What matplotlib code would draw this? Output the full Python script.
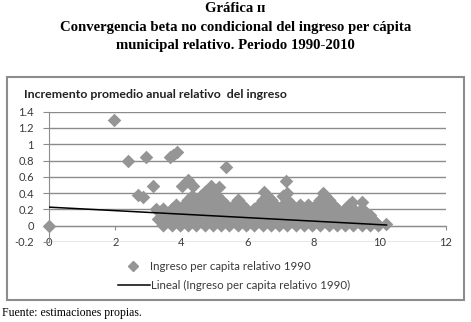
import matplotlib
matplotlib.use("Agg")
import matplotlib.pyplot as plt
from matplotlib.lines import Line2D
from matplotlib.patches import Rectangle
import numpy as np

# isolated points
out_x = [0.0, 1.95, 2.38, 2.93, 3.65, 3.75, 3.85, 2.68, 2.83, 3.13, 3.23, 3.28,
         4.02, 4.19, 4.26, 4.34, 4.89, 5.14, 5.34, 6.5, 6.7, 7.15, 7.19, 8.27,
         9.16, 9.46, 9.71, 9.86, 10.2]
out_y = [0.0, 1.30, 0.79, 0.84, 0.84, 0.87, 0.90, 0.38, 0.35, 0.49, 0.21, 0.08,
         0.49, 0.56, 0.52, 0.49, 0.49, 0.48, 0.72, 0.42, 0.32, 0.55, 0.40, 0.40,
         0.29, 0.29, 0.13, 0.05, 0.02]

# dense cloud, one row of points per level
row_levels = [0.01, 0.06, 0.11, 0.16, 0.21, 0.26, 0.31, 0.36, 0.41]
row_x = [
    [3.45, 3.7, 3.95, 4.2, 4.45, 4.7, 4.95, 5.2, 5.45, 5.7, 5.95, 6.2, 6.45, 6.7,
     6.95, 7.2, 7.45, 7.7, 7.95, 8.2, 8.45, 8.7, 8.95, 9.2, 9.45, 9.7, 9.95],
    [3.58, 3.83, 4.08, 4.33, 4.58, 4.83, 5.08, 5.33, 5.58, 5.83, 6.08, 6.33, 6.58,
     6.83, 7.08, 7.33, 7.58, 7.83, 8.08, 8.33, 8.58, 8.83, 9.08, 9.33, 9.58, 9.83],
    [3.45, 3.7, 3.95, 4.2, 4.45, 4.7, 4.95, 5.2, 5.45, 5.7, 5.95, 6.2, 6.45, 6.7,
     6.95, 7.2, 7.45, 7.7, 7.95, 8.2, 8.45, 8.7, 8.95, 9.2, 9.45, 9.7],
    [3.58, 3.83, 4.08, 4.33, 4.58, 4.83, 5.08, 5.33, 5.58, 5.83, 6.08, 6.33, 6.58,
     6.83, 7.08, 7.33, 7.58, 7.83, 8.08, 8.33, 8.58, 8.83, 9.08, 9.33, 9.58],
    [3.45, 3.7, 3.95, 4.2, 4.45, 4.7, 4.95, 5.2, 5.45, 5.7, 5.95, 6.2, 6.45, 6.7,
     6.95, 7.2, 7.45, 7.7, 7.95, 8.2, 8.45, 8.7, 8.95, 9.2, 9.45],
    [3.83, 4.08, 4.33, 4.58, 4.83, 5.08, 5.33, 5.58, 5.83, 6.33, 6.58, 6.83, 7.08,
     7.33, 7.58, 7.83, 8.08, 8.33, 8.58, 9.08],
    [4.2, 4.45, 4.7, 4.95, 5.2, 5.7, 6.45, 6.7, 7.2, 8.2, 8.45],
    [4.33, 4.58, 4.83, 5.08, 6.58, 7.08, 8.33],
    [4.7, 4.95],
]

# linear trend (Excel "Lineal")
trend_b0 = 0.228
trend_b1 = -0.0215
trend_x = [0.0, 10.2]

x_ticks = [0, 2, 4, 6, 8, 10, 12]
y_ticks = [-0.2, 0, 0.2, 0.4, 0.6, 0.8, 1, 1.2, 1.4]
y_labels = ["-0.2", "0", "0.2", "0.4", "0.6", "0.8", "1", "1.2", "1.4"]

pt_color = "#959595"
grid_color = "#8c8c8c"
txt_color = "#3a3a3a"
sans = "Lato"
serif = "Liberation Serif"

fig = plt.figure(figsize=(4.71, 3.22), dpi=100)
ax = fig.add_axes([49.3 / 471, 80 / 322, 396.7 / 471, 130.3 / 322])

cx, cy = [], []
for lev, xs in zip(row_levels, row_x):
    cx += xs
    cy += [lev] * len(xs)

ax.scatter(cx, cy, s=52, marker="D", color=pt_color, linewidths=0, zorder=3, clip_on=False)
ax.scatter(out_x, out_y, s=48, marker="D", color=pt_color, linewidths=0, zorder=3, clip_on=False)
tx = np.array(trend_x)
ax.plot(tx, trend_b0 + trend_b1 * tx, color="black", lw=1.1, zorder=4)

ax.set_xlim(0, 12)
ax.set_ylim(-0.2, 1.4)
for yv in y_ticks:
    ax.axhline(yv, color=grid_color, lw=1, zorder=1)

for s in ["top", "right"]:
    ax.spines[s].set_visible(False)
ax.spines["left"].set_color(grid_color)
ax.spines["bottom"].set_color(grid_color)
ax.spines["bottom"].set_position(("data", 0))
ax.set_xticks(x_ticks)
ax.set_xticklabels([])
ax.set_yticks(y_ticks)
ax.set_yticklabels(y_labels, fontfamily=sans, fontsize=8, color=txt_color)
ax.tick_params(axis="y", length=4, color=grid_color, pad=7)
ax.tick_params(axis="x", length=3, color=grid_color)
for xv in x_ticks:
    ax.text(xv, -0.2, str(xv), ha="center", va="center", fontfamily=sans,
            fontsize=8, color=txt_color, zorder=0)

# chart title inside the frame
fig.text(24 / 471, 1 - 95 / 322, "Incremento promedio anual relativo  del ingreso",
         fontfamily=sans, fontweight="bold", fontsize=8.9, color="#222222", va="center")

# legend drawn by hand
fig.add_artist(Line2D([133 / 471], [1 - 266 / 322], marker="D", markersize=5,
                      color=pt_color, lw=0, transform=fig.transFigure))
fig.text(150 / 471, 1 - 266 / 322, "Ingreso per capita relativo 1990", fontfamily=sans,
         fontsize=8.3, color=txt_color, va="center")
fig.add_artist(Line2D([118 / 471, 150 / 471], [1 - 285 / 322] * 2, color="black",
                      lw=1.1, transform=fig.transFigure))
fig.text(151 / 471, 1 - 285 / 322, "Lineal (Ingreso per capita relativo 1990)",
         fontfamily=sans, fontsize=8.3, color=txt_color, va="center")

# frame around the chart
fig.add_artist(Rectangle((7 / 471, 1 - 300 / 322), 457 / 471, 223 / 322,
                         transform=fig.transFigure, fill=False, ec=grid_color, lw=1.5))

# headings and source in serif
fig.text(0.5, 1 - 9 / 322, "Gráfica ɪɪ", ha="center", va="center",
         fontfamily=[serif, "DejaVu Serif"], fontweight="bold", fontsize=10.5)
fig.text(0.5, 1 - 28 / 322, "Convergencia beta no condicional del ingreso per cápita",
         ha="center", va="center", fontfamily=serif, fontweight="bold", fontsize=10.6)
fig.text(0.5, 1 - 46 / 322, "municipal relativo. Periodo 1990-2010",
         ha="center", va="center", fontfamily=serif, fontweight="bold", fontsize=10.6)
fig.text(2 / 471, 1 - 313 / 322, "Fuente: estimaciones propias.", va="center",
         fontfamily=serif, fontsize=8.5)

fig.savefig("out.png", dpi=100)
